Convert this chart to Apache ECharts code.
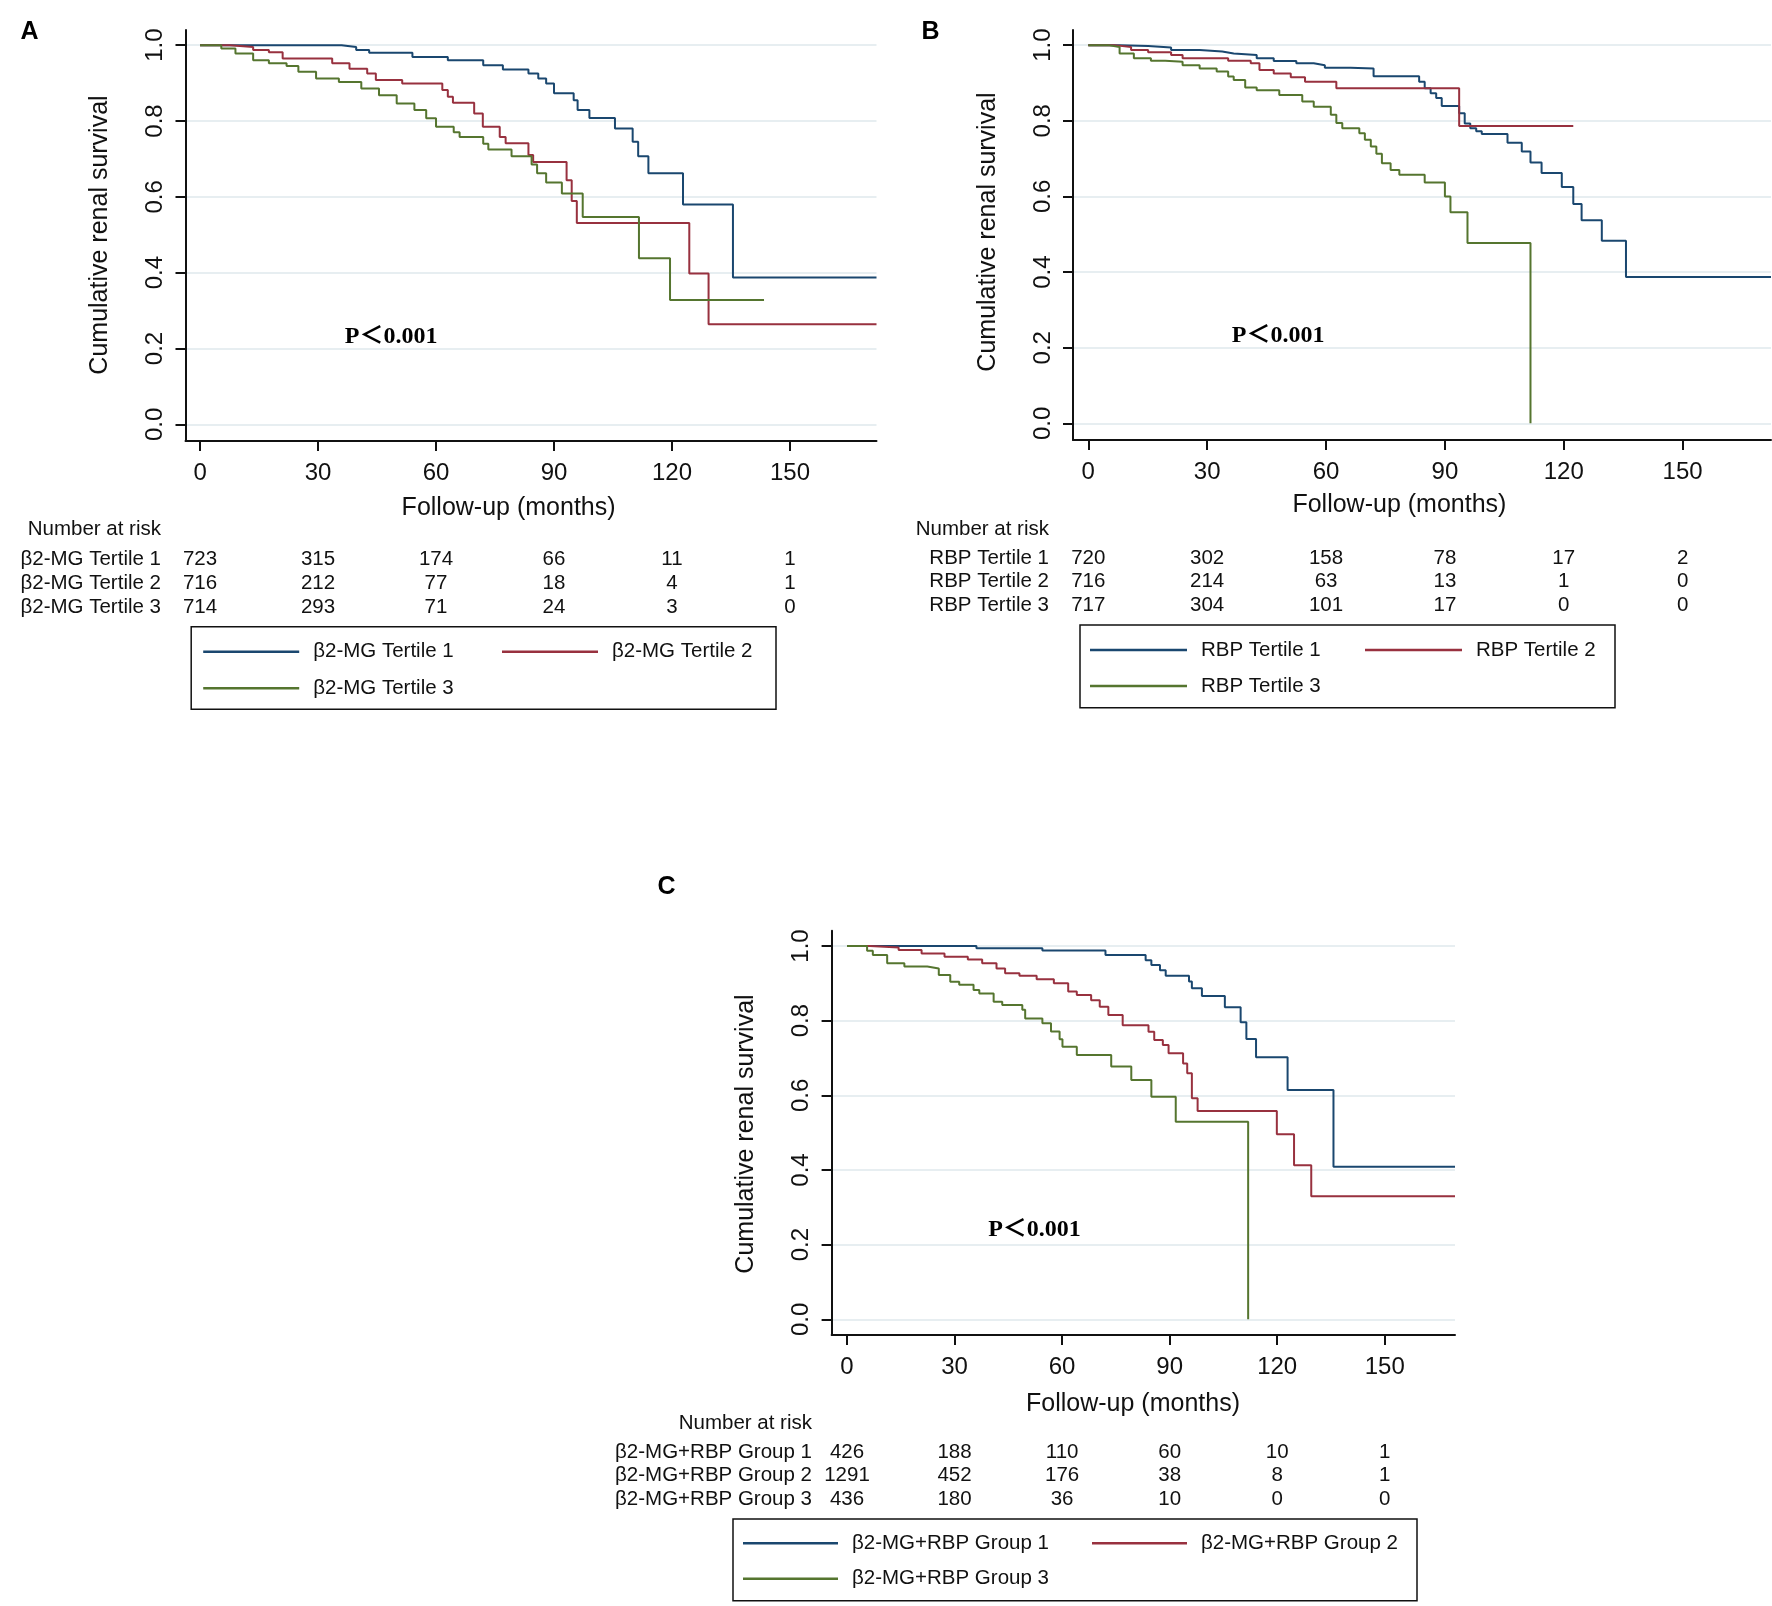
<!DOCTYPE html>
<html>
<head>
<meta charset="utf-8">
<script src="https://cdn.jsdelivr.net/npm/echarts@6/dist/echarts.min.js"></script>
<style>
html,body{margin:0;padding:0;background:#fff;}
#c{width:1772px;height:1606px;}
</style>
</head>
<body>
<div id="c"></div>
<script>
// ---------------- data ----------------
const monthTicks = [0, 30, 60, 90, 120, 150];
const survTicks = [0, 0.2, 0.4, 0.6, 0.8, 1.0];

const namesA = ['β2-MG Tertile 1', 'β2-MG Tertile 2', 'β2-MG Tertile 3'];
const namesB = ['RBP Tertile 1', 'RBP Tertile 2', 'RBP Tertile 3'];
const namesC = ['β2-MG+RBP Group 1', 'β2-MG+RBP Group 2', 'β2-MG+RBP Group 3'];

// Kaplan-Meier curves: [month, survival from that month on]
const kmA1 = [[0,1],[36,0.995],[39.7,0.987],[43,0.98],[54,0.969],[63,0.96],[72,0.947],[77,0.936],[83.5,0.925],[86,0.912],[88,0.899],[90,0.873],[95,0.855],[96,0.829],[99,0.808],[105.5,0.78],[110,0.745],[111.4,0.707],[114,0.662],[122.8,0.58],[135.5,0.387],[172,0.387]];
const kmA2 = [[0,1],[7.6,0.995],[13.5,0.987],[17.5,0.981],[21,0.965],[33.6,0.952],[38,0.938],[42.5,0.925],[44.7,0.908],[51.4,0.899],[61.6,0.882],[63,0.864],[64.3,0.848],[69.7,0.82],[71.9,0.785],[76.2,0.758],[77.7,0.741],[83.5,0.71],[84.7,0.692],[93.2,0.644],[94.5,0.589],[95.8,0.531],[124.4,0.398],[129.3,0.264],[172,0.264]];
const kmA3 = [[0,1],[5.4,0.991],[9,0.978],[13.5,0.96],[17.5,0.952],[22,0.945],[25,0.93],[29.5,0.912],[35.3,0.903],[41,0.886],[45.5,0.868],[50,0.846],[54.5,0.829],[57.5,0.807],[60,0.785],[64.5,0.77],[66,0.758],[72,0.74],[73.3,0.725],[79.2,0.707],[84.3,0.685],[85.7,0.662],[88,0.638],[92,0.609],[97.3,0.547],[111.6,0.438],[119.5,0.328],[143.4,0.328]];

const kmB1 = [[0,1],[7.9,0.998],[15.1,0.994],[20.9,0.987],[28.1,0.983],[33.8,0.978],[36.7,0.974],[42.5,0.965],[46.8,0.958],[52.5,0.952],[56.9,0.947],[59.7,0.94],[66.2,0.938],[72,0.918],[83.5,0.903],[84.9,0.886],[86.4,0.873],[87.8,0.86],[89.2,0.839],[93.6,0.82],[95,0.793],[96.4,0.78],[97.9,0.772],[99.3,0.765],[105.8,0.742],[109.4,0.719],[111.6,0.69],[114.4,0.662],[119.5,0.625],[122.4,0.58],[124.5,0.537],[129.6,0.483],[135.7,0.387],[172.3,0.387]];
const kmB2 = [[0,1],[6.5,0.995],[10.8,0.987],[15.1,0.981],[20.9,0.974],[23.8,0.965],[35.3,0.959],[41,0.952],[43.2,0.934],[46.8,0.925],[51.1,0.915],[54.7,0.903],[62.6,0.886],[93.6,0.786],[122.4,0.786]];
const kmB3 = [[0,1],[5,0.995],[7.9,0.978],[11.5,0.965],[15.8,0.959],[19.4,0.956],[23.8,0.947],[28.1,0.938],[32.4,0.93],[35.3,0.917],[36.7,0.908],[39.6,0.888],[42.5,0.881],[48.2,0.868],[54,0.851],[56.9,0.837],[61.2,0.816],[62.6,0.794],[64.1,0.78],[68.4,0.767],[69.8,0.75],[71.3,0.732],[72.7,0.713],[74.1,0.688],[76.3,0.67],[78.5,0.657],[84.9,0.637],[90,0.6],[91.4,0.558],[95.7,0.477],[111.6,0]];

const kmC1 = [[0,1],[36.1,0.994],[54.5,0.988],[72.1,0.976],[83.3,0.962],[84.9,0.949],[87.3,0.935],[88.9,0.92],[95.4,0.905],[96.2,0.887],[99,0.866],[105.4,0.836],[109.8,0.796],[111.4,0.751],[114.1,0.702],[122.9,0.614],[135.7,0.409],[169.6,0.409]];
const kmC2 = [[0,1],[6.4,0.996],[14.4,0.989],[20.8,0.98],[27.2,0.971],[33.7,0.964],[37.7,0.954],[41.7,0.94],[44.1,0.927],[48.1,0.92],[52.9,0.911],[57.7,0.9],[61.7,0.878],[64.1,0.869],[68.1,0.855],[70.5,0.8375],[72.9,0.815],[76.9,0.788],[84.1,0.77],[85.7,0.748],[88.1,0.735],[89.7,0.7125],[93.75,0.685],[94.9,0.659],[96.2,0.592],[97.8,0.558],[119.9,0.496],[124.7,0.413],[129.5,0.33],[169.6,0.33]];
const kmC3 = [[0,1],[5.6,0.987],[7.2,0.976],[11.2,0.954],[16,0.945],[22.4,0.94],[25.6,0.922],[28.8,0.904],[31.3,0.896],[35.3,0.882],[36.9,0.873],[40.9,0.851],[43.3,0.842],[48.9,0.829],[49.7,0.806],[54.5,0.793],[56.9,0.771],[59.3,0.75],[60.1,0.73],[64.1,0.708],[73.7,0.677],[79.3,0.641],[84.9,0.596],[91.7,0.529],[111.9,0]];

// Number at risk (at months 0,30,60,90,120,150)
const riskA1 = [723, 315, 174, 66, 11, 1];
const riskA2 = [716, 212, 77, 18, 4, 1];
const riskA3 = [714, 293, 71, 24, 3, 0];
const riskB1 = [720, 302, 158, 78, 17, 2];
const riskB2 = [716, 214, 63, 13, 1, 0];
const riskB3 = [717, 304, 101, 17, 0, 0];
const riskC1 = [426, 188, 110, 60, 10, 1];
const riskC2 = [1291, 452, 176, 38, 8, 1];
const riskC3 = [436, 180, 36, 10, 0, 0];

const panelLetters = ['A', 'B', 'C'];
const pText = 'P＜0.001';
const pPos = [[48.6, 0.231], [47.9, 0.231], [52.3, 0.239]];
const xTitle = 'Follow-up (months)';
const yTitle = 'Cumulative renal survival';
const riskHeader = 'Number at risk';

// ---------------- style / layout ----------------
const COLORS = ['#1a476f', '#98313f', '#55752f'];
const SANS = '"Liberation Sans", Arial, Helvetica, sans-serif';
const SERIF = '"Liberation Serif", "Times New Roman", "Noto Sans CJK SC", serif';
const DY = 1.8; // small vertical nudge for centred texts

const layout = [
  { grid: {left: 185.5, top: 30, width: 691, height: 411}, xMin: -3.7, xMax: 172, yMin: -0.044, yMax: 1.04,
    letter: [29.6, 31.7], xT: [508.6, 506.7], yT: [100.6, 235],
    riskRight: 161, riskHeadY: 528, riskRows: [557.3, 581.7, 605.7],
    legBox: [191.2, 626.7, 584.8, 82.6], legItems: [[203.2, 651.7], [502, 651.7], [203.2, 688.3]], legW: 96 },
  { grid: {left: 1073, top: 30, width: 698, height: 410}, xMin: -3.86, xMax: 172.3, yMin: -0.044, yMax: 1.04,
    letter: [930.5, 31.7], xT: [1399.4, 503.3], yT: [988.4, 232],
    riskRight: 1049, riskHeadY: 527.3, riskRows: [556.7, 580, 604],
    legBox: [1080, 625, 535, 82.7], legItems: [[1090, 650], [1365, 650], [1090, 686]], legW: 97 },
  { grid: {left: 831.6, top: 930.7, width: 623.4, height: 404.3}, xMin: -4.3, xMax: 169.6, yMin: -0.042, yMax: 1.041,
    letter: [666.6, 887], xT: [1133, 1402.7], yT: [746.6, 1134],
    riskRight: 812, riskHeadY: 1421.7, riskRows: [1450.7, 1474, 1497.7],
    legBox: [733, 1519, 684, 81.7], legItems: [[743, 1543.3], [1092, 1543.3], [743, 1578.7]], legW: 95 }
];

const panelNames = [namesA, namesB, namesC];
const panelCurves = [[kmA1, kmA2, kmA3], [kmB1, kmB2, kmB3], [kmC1, kmC2, kmC3]];
const panelRisk = [[riskA1, riskA2, riskA3], [riskB1, riskB2, riskB3], [riskC1, riskC2, riskC3]];

const chart = echarts.init(document.getElementById('c'), null, {renderer: 'canvas'});

const grids = [], xAxes = [], yAxes = [], series = [], legends = [];
layout.forEach((L, i) => {
  grids.push(Object.assign({containLabel: false}, L.grid));
  xAxes.push({
    type: 'value', gridIndex: i, min: L.xMin, max: L.xMax,
    axisLine: {show: true, onZero: false, lineStyle: {color: '#111', width: 2}},
    axisTick: {show: true, length: 10, customValues: monthTicks, lineStyle: {color: '#111', width: 2}},
    axisLabel: {customValues: monthTicks, fontFamily: SANS, fontSize: 24, color: '#111', margin: 20.5},
    splitLine: {show: false}
  });
  yAxes.push({
    type: 'value', gridIndex: i, min: L.yMin, max: L.yMax,
    axisLine: {show: true, onZero: false, lineStyle: {color: '#111', width: 2}},
    axisTick: {show: true, length: 10, customValues: survTicks, lineStyle: {color: '#111', width: 2}},
    axisLabel: {customValues: survTicks, rotate: 90, fontFamily: SANS, fontSize: 24, color: '#111', margin: 18,
                formatter: v => Number(v).toFixed(1)},
    splitLine: {show: true, lineStyle: {color: '#dfe9ed', width: 1.5}}
  });
  panelNames[i].forEach((nm, k) => {
    series.push({
      name: nm, type: 'line', xAxisIndex: i, yAxisIndex: i, step: 'end',
      data: panelCurves[i][k], showSymbol: false, symbol: 'none',
      lineStyle: {color: COLORS[k], width: 2}, itemStyle: {color: COLORS[k]},
      emphasis: {disabled: true}, animation: false
    });
    const it = L.legItems[k];
    legends.push({
      data: [nm], left: it[0], top: it[1] - 11, padding: 0, icon: 'rect',
      itemWidth: L.legW, itemHeight: 2.5, selectedMode: false,
      textStyle: {fontFamily: SANS, fontSize: 20.5, color: '#111', lineHeight: 22, padding: [0, 0, 0, 9]}
    });
  });
});

chart.setOption({
  backgroundColor: '#fff',
  animation: false,
  grid: grids, xAxis: xAxes, yAxis: yAxes, series: series, legend: legends
});

// ---------------- texts: titles, risk table, annotations ----------------
const g = [];
function txt(x, y, text, opt) {
  g.push(Object.assign({type: 'text', x: x, y: y, silent: true,
    style: Object.assign({text: text, fontFamily: SANS, fontSize: 20.5, fill: '#111', align: 'center', verticalAlign: 'middle'}, opt.style || {})},
    opt.rot ? {rotation: opt.rot} : {}));
}
layout.forEach((L, i) => {
  txt(L.letter[0], L.letter[1], panelLetters[i], {style: {fontSize: 25, fontWeight: 'bold', fill: '#000'}});
  txt(L.xT[0], L.xT[1] + DY, xTitle, {style: {fontSize: 25}});
  txt(L.yT[0], L.yT[1], yTitle, {style: {fontSize: 25}, rot: Math.PI / 2});
  const pp = chart.convertToPixel({gridIndex: i}, pPos[i]);
  txt(pp[0], pp[1], pText, {style: {fontFamily: SERIF, fontSize: 24, fontWeight: 'bold', fill: '#000'}});
  txt(L.riskRight, L.riskHeadY + DY, riskHeader, {style: {align: 'right'}});
  panelNames[i].forEach((nm, k) => {
    txt(L.riskRight, L.riskRows[k] + DY, nm, {style: {align: 'right'}});
    panelRisk[i][k].forEach((n, j) => {
      const px = chart.convertToPixel({xAxisIndex: i}, monthTicks[j]);
      txt(px, L.riskRows[k] + DY, String(n), {});
    });
  });
  const b = L.legBox;
  g.push({type: 'rect', silent: true, shape: {x: b[0], y: b[1], width: b[2], height: b[3]},
          style: {fill: 'none', stroke: '#111', lineWidth: 1.5}});
});
chart.setOption({graphic: g});
</script>
</body>
</html>
